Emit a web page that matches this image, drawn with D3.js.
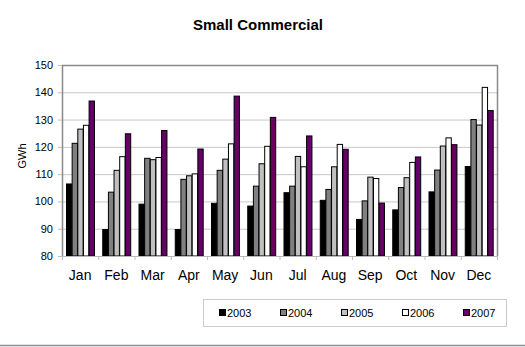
<!DOCTYPE html>
<html><head><meta charset="utf-8">
<script src="https://cdn.jsdelivr.net/npm/d3@7"></script>
<style>body{margin:0;background:#fff}svg{display:block;font-family:Arial,"Liberation Sans",sans-serif}</style>
</head><body>
<svg id="c" width="525" height="347"></svg>
<script>
const months = ["Jan","Feb","Mar","Apr","May","Jun","Jul","Aug","Sep","Oct","Nov","Dec"];
const years = ["2003","2004","2005","2006","2007"];
const v2003 = [106.4, 89.7, 99.0, 89.7, 99.3, 98.3, 103.2, 100.4, 93.4, 96.9, 103.5, 112.8];
const v2004 = [121.3, 103.4, 115.8, 108.1, 111.4, 105.6, 105.6, 104.4, 100.2, 105.1, 111.5, 130.0];
const v2005 = [126.5, 111.4, 115.3, 109.4, 115.5, 113.8, 116.5, 112.7, 108.9, 108.7, 120.3, 128.0];
const v2006 = [127.9, 116.4, 116.1, 110.1, 121.1, 120.2, 112.7, 120.9, 108.4, 114.3, 123.3, 141.8];
const v2007 = [136.8, 124.8, 126.0, 119.2, 138.6, 130.8, 124.0, 119.1, 99.4, 116.3, 120.8, 133.3];
const yTicks = [80, 90, 100, 110, 120, 130, 140, 150];
const series = [v2003, v2004, v2005, v2006, v2007];
const colors = ["#000000", "#808080", "#c0c0c0", "#ffffff", "#660066"];

const svg = d3.select("#c");
const L = 62, R = 497, T = 65, B = 256;
const x0 = d3.scaleBand().domain(months).range([L, R]).padding(0);
const x1 = d3.scaleBand().domain(years).range([4, x0.bandwidth() - 4]).padding(0);
const y = d3.scaleLinear().domain([80, 150]).range([B, T]);

// title
svg.append("text").attr("x", 258).attr("y", 30).attr("text-anchor", "middle")
  .attr("font-weight", "bold").attr("font-size", 15).text("Small Commercial");

// gridlines
svg.append("g").selectAll("line").data(yTicks.filter(t => t > 80 && t < 150)).join("line")
  .attr("x1", L).attr("x2", R).attr("y1", d => y(d) + 0.5).attr("y2", d => y(d) + 0.5)
  .attr("stroke", "#c8c8c8").attr("stroke-width", 1);

// bars
const g = svg.append("g");
months.forEach((m, i) => {
  years.forEach((yr, j) => {
    const val = series[j][i];
    g.append("rect")
      .attr("x", x0(m) + x1(yr) + 0.5)
      .attr("y", y(val))
      .attr("width", x1.bandwidth() - 0.3)
      .attr("height", B - y(val))
      .attr("fill", colors[j]).attr("stroke", "#000").attr("stroke-width", 1);
  });
});

// frame
svg.append("path").attr("d", `M${L+0.5},${B}V${T+0.5}H${R+0.5}V${B}`)
  .attr("fill", "none").attr("stroke", "#888").attr("stroke-width", 1.5);
svg.append("line").attr("x1", L).attr("x2", R + 1).attr("y1", B + 0.5).attr("y2", B + 0.5)
  .attr("stroke", "#bbb").attr("stroke-width", 1);

// y axis
const ya = svg.append("g").attr("transform", `translate(${L},0)`)
  .call(d3.axisLeft(y).tickValues(yTicks).tickSize(4).tickPadding(5));
ya.select(".domain").remove();
ya.selectAll(".tick line").attr("stroke", "#bbb");
ya.selectAll("text").attr("font-size", 11).attr("fill", "#000").attr("font-family", "Arial, 'Liberation Sans', sans-serif");

// x axis
const xa = svg.append("g").attr("transform", `translate(0,${B})`)
  .call(d3.axisBottom(x0).tickSize(0).tickPadding(14));
xa.select(".domain").remove();
xa.selectAll("text").attr("font-size", 14).attr("fill", "#000").attr("font-family", "Arial, 'Liberation Sans', sans-serif");
svg.append("g").selectAll("line").data(months.concat(["end"])).join("line")
  .attr("x1", (d, i) => L + i * x0.bandwidth() + 0.5).attr("x2", (d, i) => L + i * x0.bandwidth() + 0.5)
  .attr("y1", B).attr("y2", B + 4).attr("stroke", "#bbb");

// y label
svg.append("text").attr("transform", "translate(26,156) rotate(-90)").attr("text-anchor", "middle")
  .attr("font-size", 11).text("GWh");

// legend
svg.append("rect").attr("x", 203.5).attr("y", 299.5).attr("width", 303).attr("height", 27)
  .attr("fill", "#fff").attr("stroke", "#ccc").attr("stroke-width", 1);
years.forEach((yr, j) => {
  const lx = 219 + j * 61;
  svg.append("rect").attr("x", lx + 0.5).attr("y", 309.5).attr("width", 6).attr("height", 6)
    .attr("fill", colors[j]).attr("stroke", "#000").attr("stroke-width", 1);
  svg.append("text").attr("x", lx + 8).attr("y", 316.5).attr("font-size", 11).text(yr);
});

// bottom rule
svg.append("line").attr("x1", 0).attr("x2", 525).attr("y1", 345.5).attr("y2", 345.5)
  .attr("stroke", "#8a8f99").attr("stroke-width", 1.5);
</script>
</body></html>
